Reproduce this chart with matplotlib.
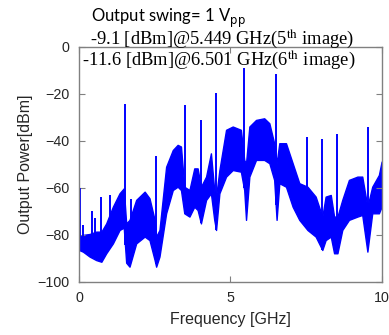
import numpy as np
import matplotlib
matplotlib.use("Agg")
import matplotlib.pyplot as plt

# Noise floor envelope of the measured spectrum (GHz, dBm)
freq = [0.00, 0.13, 0.35, 0.57, 0.74, 0.90, 1.12, 1.34, 1.48, 1.56, 1.67, 1.89,
        2.17, 2.33, 2.50, 2.55, 2.66, 2.88, 3.10, 3.26, 3.37, 3.48, 3.65, 3.81,
        3.92, 4.03, 4.20, 4.36, 4.47, 4.53, 4.64, 4.86, 5.08, 5.35, 5.46, 5.52,
        5.63, 5.85, 6.12, 6.29, 6.45, 6.53, 6.62, 6.84, 7.06, 7.28, 7.55, 7.82,
        8.04, 8.15, 8.32, 8.43, 8.54, 8.70, 8.92, 9.20, 9.36, 9.53, 9.69, 9.91, 10.0]
upper = [-80.8, -80.1, -79.7, -78.7, -78.7, -75.2, -68.1, -62.4, -60.3, -75.2, -73.7, -65.2,
         -61.7, -64.5, -73.7, -80.8, -78.0, -51.1, -44.0, -41.8, -42.5, -59.6, -61.0, -51.8,
         -51.8, -59.6, -55.3, -45.4, -61.0, -63.8, -52.5, -35.4, -34.0, -35.4, -48.2, -49.6,
         -34.0, -31.2, -30.5, -32.6, -41.1, -49.6, -41.1, -41.1, -49.6, -58.1, -59.6, -63.8,
         -72.3, -63.8, -63.1, -72.3, -72.3, -65.2, -56.7, -55.3, -55.3, -68.1, -59.6, -54.6, -48.9]
lower = [-86.5, -87.2, -89.3, -90.8, -91.5, -87.9, -83.7, -78.0, -77.0, -91.9, -93.6, -83.7,
         -80.8, -82.3, -90.8, -93.6, -89.3, -70.9, -61.0, -59.6, -61.0, -70.9, -72.3, -68.1,
         -69.5, -75.2, -65.2, -62.4, -73.7, -78.0, -62.4, -55.3, -52.5, -53.2, -61.0, -73.7,
         -55.3, -48.2, -48.2, -49.6, -56.7, -73.7, -58.1, -59.6, -68.1, -73.7, -78.0, -80.8,
         -86.5, -82.3, -80.8, -87.9, -87.9, -78.0, -73.7, -72.3, -71.6, -87.2, -70.9, -70.9, -68.1]

# Spurious tones (GHz, dBm)
spur_f = [0.03, 0.12, 0.42, 0.53, 0.72, 1.02, 1.52, 1.73, 2.53, 3.52, 4.03, 4.53,
          5.449, 6.501, 7.53, 8.04, 8.54, 9.54]
spur_p = [-60.3, -76.0, -70.0, -73.0, -64.0, -63.0, -24.3, -65.0, -46.6, -24.7, -31.4, -19.8,
          -9.1, -11.6, -38.4, -39.1, -37.0, -34.4]

plt.rcParams["mathtext.fontset"] = "stix"
plt.rcParams["font.family"] = ["Liberation Sans", "DejaVu Sans"]

fig = plt.figure(figsize=(3.89, 3.35), dpi=100)
ax = fig.add_axes([0.203, 0.159, 0.778, 0.702])

ax.fill_between(freq, lower, upper, color="#0000ff", lw=1.0, edgecolor="#0000ff")
base = np.interp(spur_f, freq, lower)
ax.vlines(spur_f, base, spur_p, color="#0000ff", lw=1.4)

ax.set_xlim(0, 10)
ax.set_ylim(-100, 0)
ax.set_xticks([0, 5, 10])
ax.set_yticks([0, -20, -40, -60, -80, -100])
ax.tick_params(direction="in", top=True, right=True, length=4, width=0.8,
               color="#808080", labelsize=10.3, labelcolor="#262626", pad=7)
for s in ax.spines.values():
    s.set_color("#808080")
    s.set_linewidth(1.0)

ax.set_xlabel("Frequency [GHz]", fontsize=11.5, color="#262626", labelpad=5)
ax.set_ylabel("Output Power[dBm]", fontsize=11.5, color="#262626", labelpad=3)

fig.text(0.234, 0.946, r"Output swing= 1 V$_{\mathrm{pp}}$", fontsize=12, family="Lato",
         math_fontfamily="dejavusans", va="center", ha="left")
fig.text(0.231, 0.884, r"-9.1 [dBm]@5.449 GHz(5$^{\mathrm{th}}$ image)", fontsize=13.3,
         family="Liberation Serif", va="center", ha="left")
fig.text(0.211, 0.821, r"-11.6 [dBm]@6.501 GHz(6$^{\mathrm{th}}$ image)", fontsize=13.3,
         family="Liberation Serif", va="center", ha="left")

fig.savefig("out.png", dpi=100)
